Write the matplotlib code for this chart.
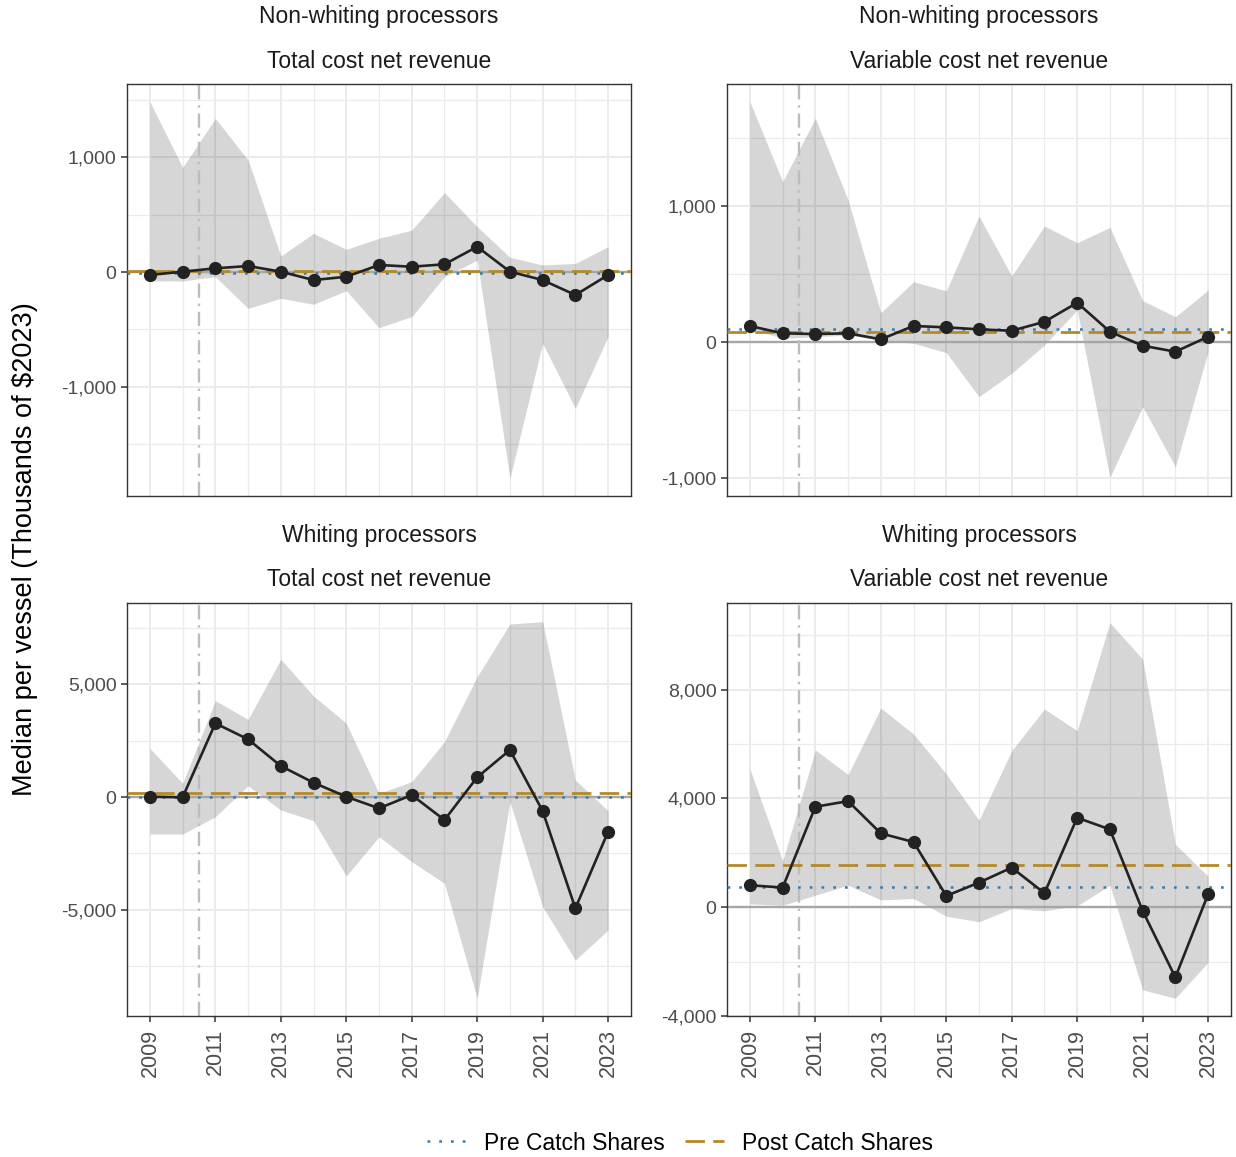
import matplotlib
matplotlib.use("Agg")
import matplotlib.pyplot as plt
from matplotlib.ticker import FixedLocator, FuncFormatter
from matplotlib.lines import Line2D

plt.rcParams['font.family'] = ['Liberation Sans', 'DejaVu Sans']
plt.rcParams['axes.unicode_minus'] = False

years = list(range(2009, 2024))

# Non-whiting processors, total cost net revenue
nw_total_mid = [-26, 3, 32, 52, 3, -70, -41, 61, 46, 67, 220, 3, -70, -200, -26]
nw_total_hi = [1481, 910, 1336, 974, 139, 336, 197, 293, 365, 690, 394, 128, 61, 75, 220]
nw_total_lo = [-78, -78, -41, -316, -229, -281, -162, -484, -388, -41, 104, -1794, -620, -1186, -562]
nw_total_pre, nw_total_post = -5, 8

# Non-whiting processors, variable cost net revenue
nw_var_mid = [118, 64, 59, 64, 20, 118, 108, 93, 83, 149, 289, 76, -27, -71, 39]
nw_var_hi = [1767, 1179, 1645, 1044, 216, 443, 377, 926, 485, 853, 730, 843, 304, 186, 382]
nw_var_lo = [100, 27, 39, 51, 15, -10, -78, -402, -230, -22, 235, -995, -475, -917, -71]
nw_var_pre, nw_var_post = 93, 76

# Whiting processors, total cost net revenue
w_total_mid = [13, -13, 3276, 2564, 1378, 636, 13, -502, 89, -1022, 876, 2089, -622, -4947, -1542]
w_total_hi = [2164, 609, 4280, 3453, 6120, 4489, 3276, 164, 680, 2458, 5347, 7689, 7791, 756, -609]
w_total_lo = [-1644, -1644, -876, 502, -578, -1053, -3511, -1764, -2876, -3836, -8947, -209, -4876, -7244, -5911]
w_total_pre, w_total_post = 10, 164

# Whiting processors, variable cost net revenue
w_var_mid = [807, 722, 3695, 3902, 2716, 2397, 415, 905, 1456, 514, 3291, 2862, -135, -2581, 477]
w_var_hi = [5089, 1700, 5787, 4881, 7327, 6373, 4905, 3200, 5761, 7290, 6495, 10470, 9125, 2312, 1138]
w_var_lo = [122, 73, 440, 807, 268, 318, -330, -539, -49, -135, 49, 807, -3046, -3350, -2029]
w_var_pre, w_var_post = 759, 1541

panels = [
    dict(group="Non-whiting processors", metric="Total cost net revenue",
         mid=nw_total_mid, hi=nw_total_hi, lo=nw_total_lo, pre=nw_total_pre, post=nw_total_post,
         ylim=(-1948, 1635), major=[-1000, 0, 1000], minor=[-1500, -500, 500, 1500],
         box=(127, 84, 631, 496), bottom=False),
    dict(group="Non-whiting processors", metric="Variable cost net revenue",
         mid=nw_var_mid, hi=nw_var_hi, lo=nw_var_lo, pre=nw_var_pre, post=nw_var_post,
         ylim=(-1132, 1897), major=[-1000, 0, 1000], minor=[-500, 500, 1500],
         box=(727, 84, 1231, 496), bottom=False),
    dict(group="Whiting processors", metric="Total cost net revenue",
         mid=w_total_mid, hi=w_total_hi, lo=w_total_lo, pre=w_total_pre, post=w_total_post,
         ylim=(-9733, 8622), major=[-5000, 0, 5000], minor=[-7500, -2500, 2500, 7500],
         box=(127, 603, 631, 1016), bottom=True),
    dict(group="Whiting processors", metric="Variable cost net revenue",
         mid=w_var_mid, hi=w_var_hi, lo=w_var_lo, pre=w_var_pre, post=w_var_post,
         ylim=(-4005, 11193), major=[-4000, 0, 4000, 8000], minor=[-2000, 2000, 6000, 10000],
         box=(727, 603, 1231, 1016), bottom=True),
]

W, H = 1236, 1157
fig = plt.figure(figsize=(W / 100, H / 100), dpi=100)

PRE_COLOR = "#3b7ba6"
POST_COLOR = "#b5892a"
TEXT_DARK = "#1a1a1a"
TICK_TEXT = "#4d4d4d"
PRE_STYLE = (0, (1.1, 3.6))
POST_STYLE = (0, (7, 3))

fmt = FuncFormatter(lambda v, p: f"{int(round(v)):,}")

for p in panels:
    x0, y0, x1, y1 = p["box"]
    ax = fig.add_axes([x0 / W, 1 - y1 / H, (x1 - x0) / W, (y1 - y0) / H])
    ax.set_xlim(2008.3, 2023.7)
    ax.set_ylim(*p["ylim"])

    # grid
    ax.xaxis.set_major_locator(FixedLocator(years[::2]))
    ax.xaxis.set_minor_locator(FixedLocator(years[1::2]))
    ax.yaxis.set_major_locator(FixedLocator(p["major"]))
    ax.yaxis.set_minor_locator(FixedLocator(p["minor"]))
    ax.grid(True, which="major", color="#ebebeb", lw=1.4, zorder=0)
    ax.grid(True, which="minor", color="#ebebeb", lw=0.9, zorder=0)
    ax.set_axisbelow(True)

    ax.fill_between(years, p["lo"], p["hi"], color="black", alpha=0.16, lw=0, zorder=1)
    ax.axhline(0, color="#a6a6a6", lw=1.7, zorder=2)
    ax.axvline(2010.5, color="#bdbdbd", lw=1.7, ls=(0, (6, 2.5, 1, 2.5)), zorder=2)
    ax.axhline(p["pre"], color=PRE_COLOR, lw=1.8, ls=PRE_STYLE, zorder=3)
    ax.axhline(p["post"], color=POST_COLOR, lw=2.0, ls=POST_STYLE, zorder=3)
    ax.plot(years, p["mid"], color="#222222", lw=1.9, marker="o", ms=8.5, zorder=4)

    ax.yaxis.set_major_formatter(fmt)
    ax.tick_params(axis="y", which="major", length=4.5, width=1.1, color="#333333",
                   labelsize=14, labelcolor=TICK_TEXT, pad=3)
    ax.tick_params(axis="y", which="minor", length=0)
    ax.tick_params(axis="x", which="minor", length=0)
    if p["bottom"]:
        ax.tick_params(axis="x", which="major", length=4.5, width=1.1, color="#333333",
                       labelsize=15.5, labelcolor=TICK_TEXT, labelrotation=90, pad=5)
    else:
        ax.tick_params(axis="x", which="major", length=0, labelbottom=False)

    for s in ax.spines.values():
        s.set_color("#333333")
        s.set_linewidth(1.0)

    cx = (x0 + x1) / 2 / W
    fig.text(cx, 1 - (y0 - 67) / H, p["group"], ha="center", va="center",
             fontsize=16.5, color=TEXT_DARK)
    fig.text(cx, 1 - (y0 - 23) / H, p["metric"], ha="center", va="center",
             fontsize=16.5, color=TEXT_DARK)

fig.text(25 / W, 1 - 549 / H, "Median per vessel (Thousands of $2023)", rotation=90,
         ha="center", va="center", fontsize=19.5, color="black")

handles = [
    Line2D([], [], color=PRE_COLOR, lw=1.8, ls=PRE_STYLE),
    Line2D([], [], color=POST_COLOR, lw=2.0, ls=POST_STYLE),
]
fig.legend(handles, ["Pre Catch Shares", "Post Catch Shares"], loc="center",
           bbox_to_anchor=(680 / W, 1 - 1143 / H), ncol=2, frameon=False,
           fontsize=16.5, handlelength=1.7, columnspacing=0.9, handletextpad=0.8)

fig.savefig("out.png", dpi=100, facecolor="white")
